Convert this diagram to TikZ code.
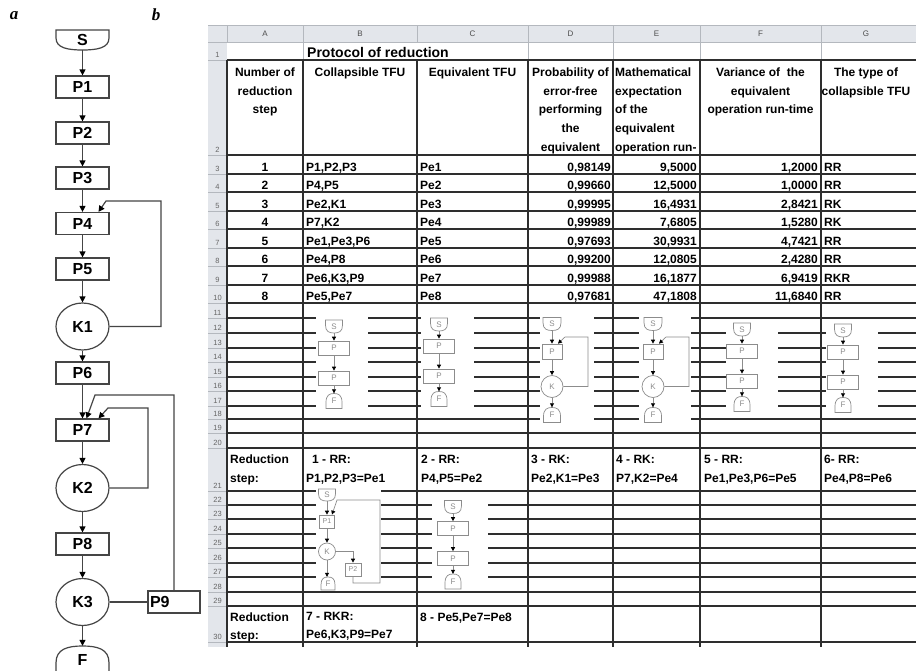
\documentclass[tikz,border=0pt]{standalone}
\usepackage{fontspec}
\setmainfont{Liberation Serif}
\setsansfont{Liberation Sans}
\usetikzlibrary{arrows.meta,shapes.geometric}

\definecolor{flowgray}{HTML}{454545}
\definecolor{gridblack}{HTML}{2E2E2E}
\definecolor{hdrfill}{HTML}{E3E6EB}
\definecolor{hdrline}{HTML}{B4B8BE}
\definecolor{minigray}{HTML}{8C8C8C}

% start and stop shapes: style, cx, cy, half width, half height
\newcommand{\startshape}[5]{%
  \draw[#1] (#2-#4,#3-#5) -- (#2+#4,#3-#5) -- (#2+#4,#3-0.2*#5)
    .. controls (#2+#4,#3+0.8*#5) and (#2+0.55*#4,#3+#5) .. (#2,#3+#5)
    .. controls (#2-0.55*#4,#3+#5) and (#2-#4,#3+0.8*#5) .. (#2-#4,#3-0.2*#5) -- cycle;}
\newcommand{\stopshape}[5]{%
  \draw[#1] (#2-#4,#3+#5) -- (#2+#4,#3+#5) -- (#2+#4,#3+0.2*#5)
    .. controls (#2+#4,#3-0.8*#5) and (#2+0.55*#4,#3-#5) .. (#2,#3-#5)
    .. controls (#2-0.55*#4,#3-#5) and (#2-#4,#3-0.8*#5) .. (#2-#4,#3+0.2*#5) -- cycle;}

\tikzset{
  shp/.style={draw=flowgray, line width=1.2pt, fill=white},
  blk/.style={draw=flowgray, line width=1.2pt, fill=white, minimum width=53pt,
    minimum height=22pt, inner sep=0pt, font=\sffamily\bfseries\fontsize{16}{16}\selectfont},
  cond/.style={blk, ellipse, minimum height=47pt},
  term/.style={minimum width=53pt, minimum height=20pt, inner sep=0pt,
    font=\sffamily\bfseries\fontsize{16}{16}\selectfont},
  flow/.style={draw=flowgray, line width=1.2pt, -{Triangle[length=6pt,width=6pt,color=black]}},
  lbl/.style={inner sep=0pt, font=\bfseries\itshape\fontsize{17}{17}\selectfont},
  gridln/.style={draw=gridblack, line width=1.4pt},
  thinln/.style={draw=hdrline, line width=0.6pt},
  cell/.style={inner sep=0pt, font=\sffamily\bfseries\fontsize{12}{12}\selectfont},
  hcell/.style={inner sep=0pt, anchor=north, align=center,
    font=\sffamily\bfseries\fontsize{12}{18.75}\selectfont},
  stepcell/.style={inner sep=0pt, anchor=north west, align=left,
    font=\sffamily\bfseries\fontsize{12}{19}\selectfont},
  rnum/.style={inner sep=0pt, anchor=base, text=black!60, font=\sffamily\fontsize{7.5}{7.5}\selectfont},
  colltr/.style={inner sep=0pt, text=black!70, font=\sffamily\fontsize{8}{8}\selectfont},
  mini/.style={draw=minigray, line width=0.7pt, fill=white},
  mbox/.style={mini, minimum width=31pt, minimum height=14pt, inner sep=0pt,
    text=minigray, font=\sffamily\fontsize{8}{8}\selectfont},
  mtxt/.style={inner sep=0pt, text=minigray, font=\sffamily\fontsize{8}{8}\selectfont},
  marr/.style={draw=minigray, line width=0.7pt, -{Triangle[length=4pt,width=4pt,color=black]}},
}

\begin{document}
\begin{tikzpicture}[x=1pt,y=-1pt]
    \useasboundingbox (0,0) rectangle (916,670);
    \fill[white] (0,0) rectangle (916,670);

    % Letras de los paneles
    \node[lbl] (la) at (14,16) {a};
    \node[lbl] (lb) at (156,15) {b};

    % Panel a: esquema del proceso
    \startshape{shp}{82.5}{40}{26.5}{10}
    \node[term] (s) at (82.5,40) {S};
    \node[blk] (p1) at (82.5,87) {P1};
    \node[blk] (p2) at (82.5,133) {P2};
    \node[blk] (p3) at (82.5,178) {P3};
    \node[blk] (p4) at (82.5,223.5) {P4};
    \node[blk] (p5) at (82.5,269) {P5};
    \node[cond] (k1) at (82.5,326.5) {K1};
    \node[blk] (p6) at (82.5,373) {P6};
    \node[blk] (p7) at (82.5,430) {P7};
    \node[cond] (k2) at (82.5,488) {K2};
    \node[blk] (p8) at (82.5,544) {P8};
    \node[cond] (k3) at (82.5,602) {K3};
    \node[blk, minimum width=52pt, text width=48pt, inner xsep=2pt, align=left] (p9) at (174,602) {P9};
    \stopshape{shp}{82.5}{660}{26.5}{14}
    \node[term, minimum height=28pt] (f) at (82.5,660) {F};

    \foreach \a/\b in {s/p1,p1/p2,p2/p3,p3/p4,p4/p5,p5/k1,k1/p6,p6/p7,p7/k2,k2/p8,p8/k3,k3/f}
        \draw[flow] (\a) -- (\b);
    \draw[flow] (k1.east) -| (161,201) -- (106,201) -- ([xshift=16pt]p4.north);
    \draw[flow] (k2.east) -| (148,408) -- (108,408) -- ([xshift=16pt]p7.north);
    \draw[flow] (p9.north) |- (95,395) -- ([xshift=4pt]p7.north);
    \draw[draw=flowgray, line width=1.2pt] (k3) -- (p9);

    % Panel b: hoja de calculo
    \fill[hdrfill] (208,25) rectangle (916,42);
    \fill[hdrfill] (208,42) rectangle (227,647);
    \draw[thinln] (208,25) -- (916,25);
    \draw[thinln] (208,42) -- (916,42);
    \foreach \x in {227,303,417,528,613,700,821}
        \draw[thinln] (\x,25) -- (\x,42);
    \foreach \x in {303,528,613,700,821}
        \draw[thinln] (\x,42) -- (\x,60);
    \foreach \x/\l in {265/A,360/B,472.5/C,570.5/D,656.5/E,760.5/F,866/G}
        \node[colltr] (col\l) at (\x,33.5) {\l};

    \foreach \yb [count=\r] in {60,155,174,192,211,229,248,266,285,303,318,333,348,362,377,
        391,406,419,433,448,491,505,519,534,548,563,577,592,606,642}{
        \draw[thinln] (208,\yb) -- (227,\yb);
        \draw[gridln] (227,\yb) -- (916,\yb);
        \node[rnum] (rn\r) at (217.5,\yb-2.5) {\r};
    }
    \foreach \x in {227,303,417,528,613,700,821}
        \draw[gridln] (\x,60) -- (\x,647);

    % Titulo y cabecera
    \node[cell, anchor=base west, font=\sffamily\bfseries\fontsize{14}{14}\selectfont] (title) at (307,57) {Protocol of reduction};
    \node[hcell] (ha) at (265,67.5) {Number of\\reduction\\step};
    \node[hcell] (hb) at (360,67.5) {Collapsible TFU};
    \node[hcell] (hc) at (472.5,67.5) {Equivalent TFU};
    \node[hcell] (hd) at (570.5,67.5) {Probability of\\error-free\\performing\\the\\equivalent};
    \node[hcell, anchor=north west, align=left] (he) at (615,67.5) {Mathematical\\expectation\\of the\\equivalent\\operation run-};
    \node[hcell] (hf) at (760.5,67.5) {Variance of~ the\\equivalent\\operation run-time};
    \node[hcell] (hg) at (866,67.5) {The type of\\collapsible TFU};

    % Filas de datos
    \foreach \yb/\nr/\cb/\cc/\cd/\ce/\cf/\cg in {
        174/1/{P1,P2,P3}/Pe1/{0,98149}/{9,5000}/{1,2000}/RR,
        192/2/{P4,P5}/Pe2/{0,99660}/{12,5000}/{1,0000}/RR,
        211/3/{Pe2,K1}/Pe3/{0,99995}/{16,4931}/{2,8421}/RK,
        229/4/{P7,K2}/Pe4/{0,99989}/{7,6805}/{1,5280}/RK,
        248/5/{Pe1,Pe3,P6}/Pe5/{0,97693}/{30,9931}/{4,7421}/RR,
        266/6/{Pe4,P8}/Pe6/{0,99200}/{12,0805}/{2,4280}/RR,
        285/7/{Pe6,K3,P9}/Pe7/{0,99988}/{16,1877}/{6,9419}/RKR,
        303/8/{Pe5,Pe7}/Pe8/{0,97681}/{47,1808}/{11,6840}/RR}{
        \node[cell, anchor=base] (na\nr) at (265,\yb-3) {\nr};
        \node[cell, anchor=base west] (nb\nr) at (306,\yb-3) {\cb};
        \node[cell, anchor=base west] (nc\nr) at (420,\yb-3) {\cc};
        \node[cell, anchor=base east] (nd\nr) at (611,\yb-3) {\cd};
        \node[cell, anchor=base east] (ne\nr) at (697,\yb-3) {\ce};
        \node[cell, anchor=base east] (nf\nr) at (818,\yb-3) {\cf};
        \node[cell, anchor=base west] (ng\nr) at (824,\yb-3) {\cg};
    }

    % Pasos de reduccion
    \node[stepcell] (ra) at (230,455) {Reduction\\step:};
    \node[stepcell] (r1) at (306,455) {\hspace*{6pt}1 - RR:\\P1,P2,P3=Pe1};
    \node[stepcell] (r2) at (421,455) {2 - RR:\\P4,P5=Pe2};
    \node[stepcell] (r3) at (531,455) {3 - RK:\\Pe2,K1=Pe3};
    \node[stepcell] (r4) at (616,455) {4 - RK:\\P7,K2=Pe4};
    \node[stepcell] (r5) at (704,455) {5 - RR:\\Pe1,Pe3,P6=Pe5};
    \node[stepcell] (r6) at (824,455) {6- RR:\\Pe4,P8=Pe6};
    \node[stepcell, font=\sffamily\bfseries\fontsize{12}{18}\selectfont] (rb) at (230,612.5) {Reduction\\step:};
    \node[stepcell, font=\sffamily\bfseries\fontsize{12}{18}\selectfont] (r7) at (306,612.5) {7 - RKR:\\Pe6,K3,P9=Pe7};
    \node[stepcell] (r8) at (420,612.5) {8 - Pe5,Pe7=Pe8};

    % Esquemas pequenos
    \fill[white] (316,312) rectangle (368,413);
    \fill[white] (421,312) rectangle (474,413);
    \fill[white] (540,312) rectangle (594,427);
    \fill[white] (639,312) rectangle (691,427);
    \fill[white] (726,320) rectangle (778,413);
    \fill[white] (826,320) rectangle (878,413);
    \fill[white] (316,488) rectangle (381,589);
    \fill[white] (432,498) rectangle (488,586);

    \foreach \cx/\cy/\m in {334/326.5/b,439/324.5/c,742/329.5/f,843/330.5/g,453/507/h}{
        \startshape{mini}{\cx}{\cy}{8.5}{6.5}
        \node[mtxt, minimum width=17pt, minimum height=13pt] (ms\m) at (\cx,\cy) {S};
        \node[mbox] (mp\m) at (\cx,\cy+21.5) {P};
        \node[mbox] (mq\m) at (\cx,\cy+51.5) {P};
        \stopshape{mini}{\cx}{\cy+74.5}{8}{7.5}
        \node[mtxt, minimum width=16pt, minimum height=15pt] (mf\m) at (\cx,\cy+74.5) {F};
        \draw[marr] (ms\m) -- (mp\m);
        \draw[marr] (mp\m) -- (mq\m);
        \draw[marr] (mq\m) -- (mf\m);
    }

    \foreach \cx/\m in {552/d,653/e}{
        \startshape{mini}{\cx}{324}{9}{6.5}
        \node[mtxt, minimum width=18pt, minimum height=13pt] (ms\m) at (\cx,324) {S};
        \node[mbox, minimum width=20pt, minimum height=15pt] (mp\m) at (\cx,351.5) {P};
        \node[mbox, circle, minimum size=22pt] (mk\m) at (\cx,386.5) {K};
        \stopshape{mini}{\cx}{415}{8.5}{7.5}
        \node[mtxt, minimum width=17pt, minimum height=15pt] (mf\m) at (\cx,415) {F};
        \draw[marr] (ms\m) -- (mp\m);
        \draw[marr] (mp\m) -- (mk\m);
        \draw[marr] (mk\m) -- (mf\m);
        \draw[marr] (mk\m.east) -| (\cx+36,337) -- (\cx+13,337) -- ([xshift=6pt]mp\m.north);
    }

    \startshape{mini}{327}{495}{8.5}{6}
    \node[mtxt, minimum width=17pt, minimum height=12pt] (ls) at (327,495) {S};
    \node[mbox, minimum width=15pt, minimum height=13pt, font=\sffamily\fontsize{7}{7}\selectfont] (lp1) at (327,521.5) {P1};
    \node[mbox, ellipse, minimum width=17pt, minimum height=17pt] (lk) at (327,551.5) {K};
    \node[mbox, minimum width=16pt, minimum height=13pt, font=\sffamily\fontsize{7}{7}\selectfont] (lp2) at (353,569.5) {P2};
    \stopshape{mini}{328}{583.5}{7}{6.5}
    \node[mtxt, minimum width=14pt, minimum height=13pt] (lf) at (328,583.5) {F};
    \draw[marr] (ls) -- (lp1);
    \draw[marr] (lp1) -- (lk);
    \draw[marr] (lk.south) -- (lf.north -| lk.south);
    \draw[marr] (lk.east) -| (lp2.north);
    \draw[marr] (lp2.south) -- (353,583) -- (380,583) -- (380,500) -- (337,500) -- ([xshift=5pt]lp1.north);
\end{tikzpicture}
\end{document}
